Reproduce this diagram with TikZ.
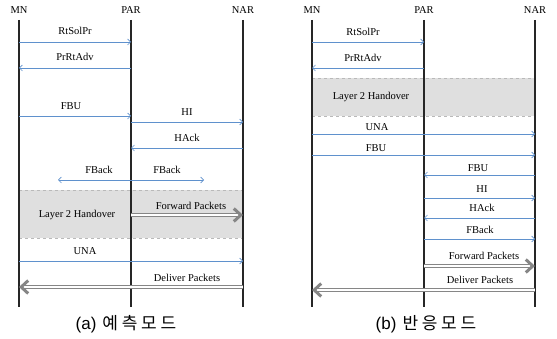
\documentclass[tikz,border=0pt]{standalone}
\usepackage{fontspec}
\setmainfont{Liberation Serif}
\newfontfamily\krfont[LetterSpace=22]{Noto Sans CJK KR}
\newfontfamily\capfont{Liberation Sans}
\usetikzlibrary{arrows.meta}
\definecolor{msgblue}{RGB}{95,145,205}

\begin{document}
\begin{tikzpicture}[x=1pt, y=-1pt,
    lbl/.style={font=\fontsize{10.5}{12}\selectfont, inner sep=0pt},
    life/.style={line width=1.2pt, color=black!85},
    msg/.style={color=msgblue, line width=0.7pt, -{Straight Barb[length=3pt,width=6pt]}},
    pkt/.style={color=gray!95, double=white, double distance=1.4pt, line width=1.1pt,
        -{Straight Barb[length=7pt,width=13pt,line width=3pt]}},
    hobox/.style={fill=gray!25, draw=none},
    hoedge/.style={dashed, color=gray!55, line width=0.8pt},
    caption/.style={font=\fontsize{17}{19}\selectfont, inner sep=0pt}]
    \useasboundingbox (0,0) rectangle (557,339);

    % Entity Headers
    \node[lbl] (mnA) at (19,10) {MN};
    \node[lbl] (parA) at (131,10) {PAR};
    \node[lbl] (narA) at (243,10) {NAR};
    \node[lbl] (mnB) at (312,10) {MN};
    \node[lbl] (parB) at (424,10) {PAR};
    \node[lbl] (narB) at (535,10) {NAR};

    % Layer 2 Handover Regions
    \fill[hobox] (mnA |- 0,190) rectangle (narA |- 0,238);
    \draw[hoedge] (mnA |- 0,190) -- (narA |- 0,190);
    \draw[hoedge] (mnA |- 0,238) -- (narA |- 0,238);
    \node[lbl] (hoA) at (77,215) {Layer 2 Handover};

    \fill[hobox] (mnB |- 0,78) rectangle (narB |- 0,116);
    \draw[hoedge] (mnB |- 0,78) -- (narB |- 0,78);
    \draw[hoedge] (mnB |- 0,116) -- (narB |- 0,116);
    \node[lbl] (hoB) at (371,97) {Layer 2 Handover};

    % Lifelines
    \foreach \ent in {mnA, parA, narA, mnB, parB, narB}
        \draw[life] (\ent |- 0,20) -- (\ent |- 0,307);

    % (a) Predictive Mode Messages
    \foreach \src/\dst/\y/\lx/\ly/\txt [count=\i] in {
        mnA/parA/42/75/31/RtSolPr, parA/mnA/68/75/57/PrRtAdv,
        mnA/parA/116/71/106/FBU, parA/narA/122/187/112/HI,
        narA/parA/148/187/138/HAck, mnA/narA/261/85/251/UNA
    } {
        \draw[msg] (\src |- 0,\y) -- (\dst |- 0,\y);
        \node[lbl] (la\i) at (\lx,\ly) {\txt};
    }
    \coordinate (fbL) at (58,180);
    \coordinate (fbR) at (204,180);
    \draw[msg, {Straight Barb[length=3pt,width=6pt]}-{Straight Barb[length=3pt,width=6pt]}] (fbL) -- (fbR);
    \node[lbl] (fbackA1) at (99,170) {FBack};
    \node[lbl] (fbackA2) at (167,170) {FBack};

    \draw[pkt] (parA |- 0,215) -- (narA |- 0,215);
    \node[lbl] (fwdA) at (191,206) {Forward Packets};
    \draw[pkt] (narA |- 0,287) -- (mnA |- 0,287);
    \node[lbl] (dlvA) at (187,278) {Deliver Packets};

    % (b) Reactive Mode Messages
    \foreach \src/\dst/\y/\lx/\ly/\txt [count=\i] in {
        mnB/parB/42/363/32/RtSolPr, parB/mnB/68/363/58/PrRtAdv,
        mnB/narB/134/377/127/UNA, mnB/narB/155/376/148/FBU,
        narB/parB/175/478/168/FBU, parB/narB/198/482/189/HI,
        narB/parB/218/482/208/HAck, parB/narB/239/480/230/FBack
    } {
        \draw[msg] (\src |- 0,\y) -- (\dst |- 0,\y);
        \node[lbl] (lb\i) at (\lx,\ly) {\txt};
    }
    \draw[pkt] (parB |- 0,266) -- (narB |- 0,266);
    \node[lbl] (fwdB) at (484,256) {Forward Packets};
    \draw[pkt] (narB |- 0,290) -- (mnB |- 0,290);
    \node[lbl] (dlvB) at (480,280) {Deliver Packets};

    % Captions
    \node[caption] (capA) at (126,324) {\capfont (a)\hspace{6pt}\krfont 예측모드};
    \node[caption] (capB) at (426,324) {\capfont (b)\hspace{6pt}\krfont 반응모드};
\end{tikzpicture}
\end{document}
